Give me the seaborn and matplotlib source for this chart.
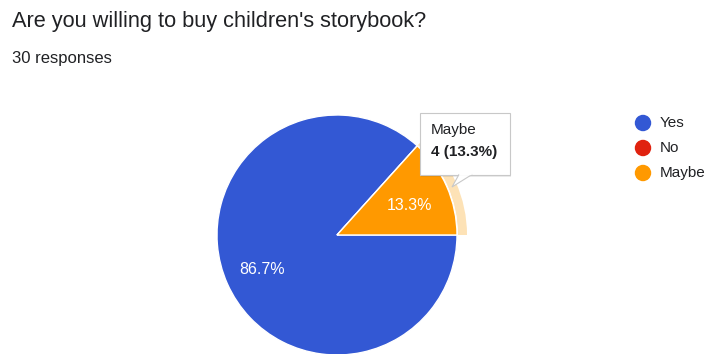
import matplotlib
matplotlib.use("Agg")
import matplotlib.pyplot as plt
import seaborn as sns
from matplotlib.patches import Wedge, FancyBboxPatch, Polygon

# ---- data ----
title = "Are you willing to buy children's storybook?"
subtitle = "30 responses"
categories = ["Yes", "No", "Maybe"]
counts = [26, 0, 4]
colors = ["#3358d4", "#e0220f", "#ff9900"]

sns.set_theme(style="white")
plt.rcParams['font.family'] = ['Liberation Sans', 'DejaVu Sans']

W, H = 706, 354
fig = plt.figure(figsize=(W / 100, H / 100), dpi=100)
ax = fig.add_axes([0, 0, 1, 1])

cx, cy, R = 337, H - 235, 120
total = sum(counts)

wedges, _ = ax.pie(counts, colors=colors, startangle=0, counterclock=False,
                   center=(cx, cy), radius=R,
                   wedgeprops=dict(edgecolor="white", linewidth=1.0))
ax.set_xlim(0, W)
ax.set_ylim(0, H)
ax.set_aspect("equal")
ax.axis("off")

# hover highlight ring on "Maybe"
mw = wedges[2]
ring = Wedge((cx, cy), R + 10, mw.theta1, mw.theta2, width=9,
             facecolor="#fde2b6", edgecolor="none", zorder=0.5)
ax.add_patch(ring)

# percentage labels
pcts = [c / total * 100 for c in counts]
ax.text(cx - 75, cy - 35, f"{pcts[0]:.1f}%", color="white", fontsize=11.5,
        ha="center", va="center")
ax.text(cx + 73, cy + 30, f"{pcts[2]:.1f}%", color="white", fontsize=11.5,
        ha="center", va="center")

# tooltip
bx0, by0, bx1, by1 = 420, H - 175, 510, H - 113
shadow = FancyBboxPatch((bx0 + 1, by0 - 2), bx1 - bx0, by1 - by0,
                        boxstyle="square,pad=0", facecolor="#000000", alpha=0.08,
                        edgecolor="none", zorder=4)
ax.add_patch(shadow)
box = FancyBboxPatch((bx0, by0), bx1 - bx0, by1 - by0,
                     boxstyle="square,pad=0", facecolor="white",
                     edgecolor="#c8c8c8", linewidth=0.8, zorder=5)
ax.add_patch(box)
tail = Polygon([(459, by0 + 0.5), (452, H - 187), (472, by0 + 0.5)], closed=True,
               facecolor="white", edgecolor="#c8c8c8", linewidth=0.8, zorder=5)
ax.add_patch(tail)
ax.plot([459.6, 471.4], [by0 + 0.6, by0 + 0.6], color="white", lw=1.6, zorder=6)
ax.text(431, H - 130, categories[2], fontsize=11, color="#202124",
        ha="left", va="center", zorder=7)
ax.text(431, H - 152, f"{counts[2]} ({pcts[2]:.1f}%)", fontsize=11,
        fontweight="bold", color="#202124", ha="left", va="center", zorder=7)

# legend
for i, (lab, col) in enumerate(zip(categories, colors)):
    y = H - 123 - i * 25
    ax.scatter([643], [y], s=140, color=col, edgecolor="none", zorder=5)
    ax.text(660, y, lab, fontsize=11, color="#202124", ha="left", va="center")

# titles
fig.text(12 / W, 1 - 22 / H, title, fontsize=15.7, color="#202124",
         ha="left", va="center")
fig.text(12 / W, 1 - 59 / H, subtitle, fontsize=12, color="#202124",
         ha="left", va="center")

fig.savefig("out.png", dpi=100)
